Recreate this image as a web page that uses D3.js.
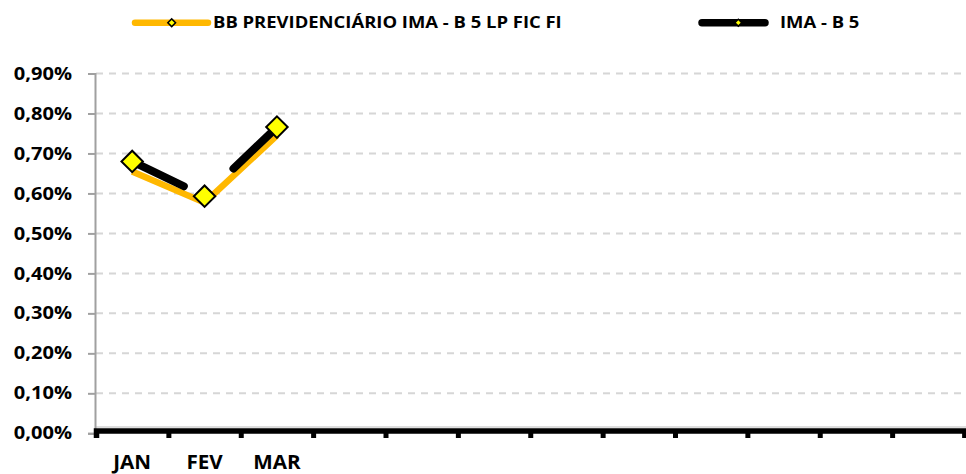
<!DOCTYPE html>
<html>
<head>
<meta charset="utf-8">
<script src="https://cdn.jsdelivr.net/npm/d3@7/dist/d3.min.js"></script>
<style>
  body { margin: 0; background: #fff; }
  text { font-family: "Open Sans", sans-serif; font-weight: bold; fill: #000; }
</style>
</head>
<body>
<script>
// data
const months = ["JAN", "FEV", "MAR", "", "", "", "", "", "", "", "", ""];
const fundo = [0.655, 0.577, 0.745];   // BB PREVIDENCIÁRIO IMA - B 5 LP FIC FI
const imab5 = [0.680, 0.593, 0.766];   // IMA - B 5
const yTicks = [0, 0.1, 0.2, 0.3, 0.4, 0.5, 0.6, 0.7, 0.8, 0.9];
const seriesNames = ["BB PREVIDENCIÁRIO IMA - B 5 LP FIC FI", "IMA - B 5"];

const width = 966, height = 474;
const orange = "#FFB800";
const blackGaps = [[0, 23], [40, 0]]; // gaps in the black line near FEV

const svg = d3.select("body").append("svg")
    .attr("width", width)
    .attr("height", height);

const x = d3.scaleBand().domain(d3.range(months.length)).range([96, 964.5]);
const xTick = d3.scaleLinear().domain([0, months.length]).range([96, 964.5]);
const y = d3.scaleLinear().domain([0, 0.9]).range([433.3, 73.5]);

// gridlines
svg.append("g").selectAll("line").data(yTicks.filter(d => d > 0)).enter()
    .append("line")
    .attr("x1", 96).attr("x2", width)
    .attr("y1", d => y(d)).attr("y2", d => y(d))
    .style("stroke", "#d6d6d6").style("stroke-width", 2)
    .style("stroke-dasharray", "7,6");

svg.append("line")
    .attr("x1", 96).attr("x2", width)
    .attr("y1", 427).attr("y2", 427)
    .style("stroke", "#bcbcbc").style("stroke-width", 1);

// y axis
const yAxis = svg.append("g")
    .attr("transform", "translate(95,0)")
    .call(d3.axisLeft(y).tickValues(yTicks).tickSize(7).tickFormat(""));
yAxis.selectAll("line, path").style("stroke", "#a0a0a0").style("stroke-width", 2);

svg.append("g").selectAll("text").data(yTicks).enter()
    .append("text")
    .attr("transform", d => "translate(72," + y(d) + ") scale(1.18,1)")
    .attr("dy", "0.36em")
    .attr("text-anchor", "end")
    .style("font-size", "17px")
    .text(d => d3.format(".2f")(d).replace(".", ",") + "%");

// x axis
const xAxis = svg.append("g")
    .attr("transform", "translate(0,430.5)")
    .call(d3.axisBottom(xTick).tickValues(d3.range(months.length + 1)).tickSize(7.5).tickFormat(""));
xAxis.select(".domain").style("stroke", "#000").style("stroke-width", 5.5);
xAxis.selectAll(".tick line").style("stroke", "#000").style("stroke-width", 5);

svg.append("g").selectAll("text").data(months).enter()
    .append("text")
    .attr("transform", (d, i) => "translate(" + (x(i) + x.bandwidth() / 2) + ",468.5) scale(1.06,1)")
    .attr("text-anchor", "middle")
    .style("font-size", "19.5px")
    .text(d => d);

const px = i => x(i) + x.bandwidth() / 2;

// orange line
svg.append("path")
    .datum(fundo)
    .attr("d", d3.line().x((d, i) => px(i)).y(d => y(d)))
    .style("fill", "none").style("stroke", orange)
    .style("stroke-width", 6.5).style("stroke-linejoin", "round");

// black line, in segments
const segs = d3.range(imab5.length - 1).map(i => {
    const x1 = px(i), y1 = y(imab5[i]), x2 = px(i + 1), y2 = y(imab5[i + 1]);
    const len = Math.hypot(x2 - x1, y2 - y1);
    const ux = (x2 - x1) / len, uy = (y2 - y1) / len;
    const g = blackGaps[i];
    return { x1: x1 + ux * g[0], y1: y1 + uy * g[0], x2: x2 - ux * g[1], y2: y2 - uy * g[1] };
});
svg.append("g").selectAll("line").data(segs).enter()
    .append("line")
    .attr("x1", d => d.x1).attr("y1", d => d.y1)
    .attr("x2", d => d.x2).attr("y2", d => d.y2)
    .style("stroke", "#000").style("stroke-width", 8).style("stroke-linecap", "round");

// markers
const diamond = d3.symbol().type(d3.symbolSquare).size(230);
svg.append("g").selectAll("path").data(imab5).enter()
    .append("path")
    .attr("d", diamond)
    .attr("transform", (d, i) => "translate(" + px(i) + "," + y(d) + ") rotate(45)")
    .style("fill", "#FFFF00").style("stroke", "#000").style("stroke-width", 2);

// legend
const legend = [
    { name: seriesNames[0], x1: 135, x2: 208, color: orange, w: 6.5, mx: 171.7, mfill: "#FFFF00", ms: 30, tx: 213 },
    { name: seriesNames[1], x1: 702, x2: 765, color: "#000", w: 7.5, mx: 738.3, mfill: "#FFFF00", ms: 24, tx: 780 }
];
const lg = svg.append("g").selectAll("g").data(legend).enter().append("g");
lg.append("line")
    .attr("x1", d => d.x1).attr("x2", d => d.x2)
    .attr("y1", 22.7).attr("y2", 22.7)
    .style("stroke", d => d.color).style("stroke-width", d => d.w)
    .style("stroke-linecap", "round");
lg.append("path")
    .attr("d", d => d3.symbol().type(d3.symbolSquare).size(d.ms)())
    .attr("transform", d => "translate(" + d.mx + ",22.7) rotate(45)")
    .style("fill", d => d.mfill).style("stroke", "#000").style("stroke-width", 1.5);
lg.append("text")
    .attr("transform", d => "translate(" + d.tx + ",27.5) scale(1.19,1)")
    .style("font-size", "15.5px")
    .text(d => d.name);
</script>
</body>
</html>
